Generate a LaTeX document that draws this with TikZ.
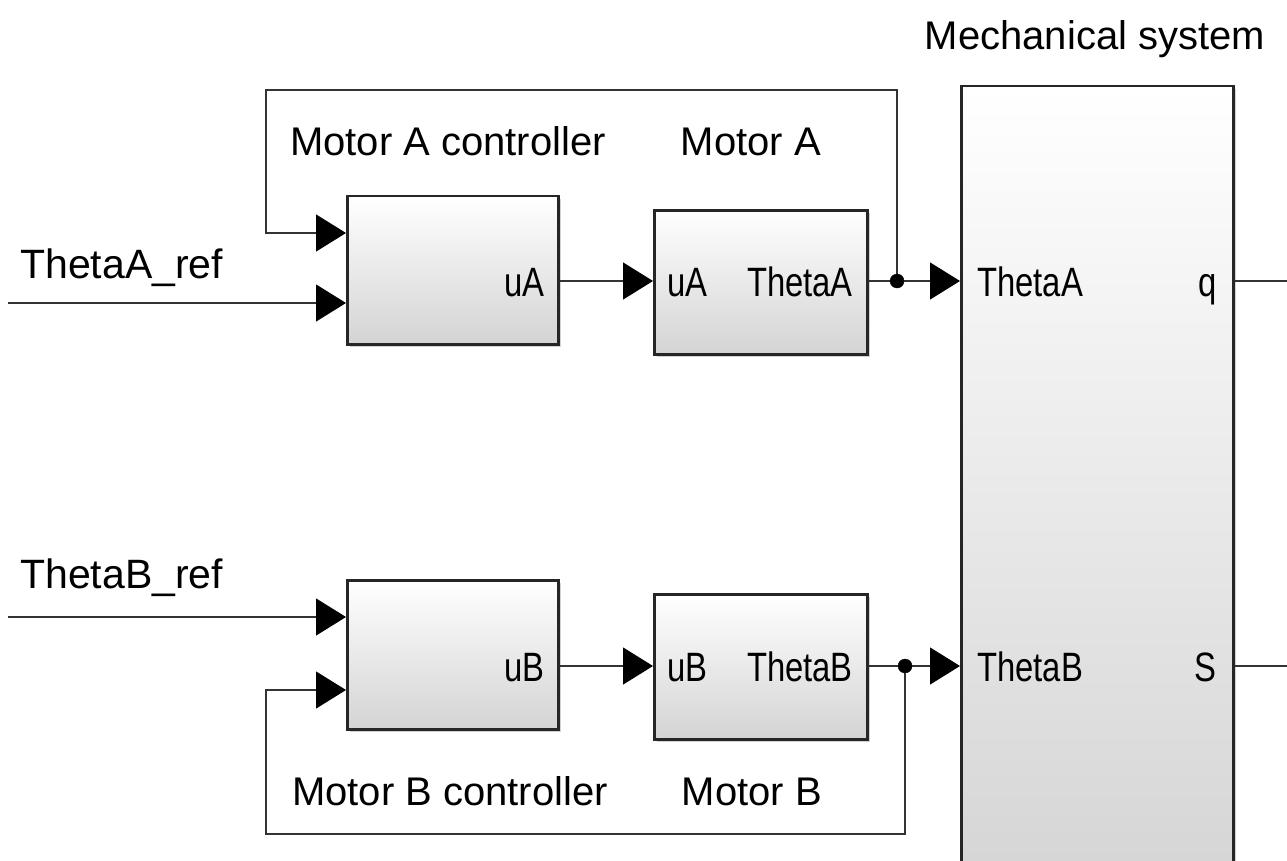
\documentclass[tikz,border=0pt]{standalone}
\usepackage{fontspec}
\setmainfont{Liberation Sans}
\newfontfamily\portfont{Liberation Sans}[FakeStretch=0.8]
\usetikzlibrary{arrows.meta,shadows}
\begin{document}
\begin{tikzpicture}[x=1pt,y=-1pt,
  blk/.style={draw=black!85, line width=2.5pt, top color=white, bottom color=black!17,
    drop shadow={shadow xshift=3pt,shadow yshift=-3pt,opacity=0.35},
    anchor=north west, inner sep=0pt},
  wire/.style={draw=black!80, line width=1.3pt},
  arr/.style={wire, -{Triangle[length=30pt,width=37pt,color=black,fill=black]}},
  ttl/.style={font=\fontsize{40}{45}\selectfont, inner sep=0pt, anchor=base},
  port/.style={font=\portfont\fontsize{41}{46}\selectfont, inner sep=0pt},
  dot/.style={circle, fill=black, draw=black, inner sep=0pt, minimum size=14pt}]
\useasboundingbox (0,0) rectangle (1287,861);
\clip (0,0) rectangle (1287,861);
\fill[white] (0,0) rectangle (1287,861);

% blocks
\node[blk, minimum width=211pt, minimum height=148pt] (ca) at (346,195) {};
\node[blk, minimum width=213pt, minimum height=144pt] (ma) at (653,209) {};
\node[blk, minimum width=211pt, minimum height=149pt] (cb) at (346,579) {};
\node[blk, minimum width=213pt, minimum height=145pt] (mb) at (653,593) {};
\node[blk, minimum width=272pt, minimum height=820pt] (ms) at (960,85) {};

% row coordinates
\coordinate (yA) at (0,281);
\coordinate (yA1) at (0,233);
\coordinate (yA2) at (0,303);
\coordinate (yB) at (0,666);
\coordinate (yB1) at (0,617);
\coordinate (yB2) at (0,690);

% titles
\node[ttl] (tca) at (448,156) {Motor A controller};
\node[ttl] (tma) at (751,156) {Motor A};
\node[ttl] (tcb) at (450,805) {Motor B controller};
\node[ttl] (tmb) at (752,805) {Motor B};
\node[ttl] (tms) at (1095,50) {Mechanical system};
\node[font=\fontsize{41}{46}\selectfont, inner sep=0pt, anchor=base west] (ra) at (20,278) {ThetaA\_ref};
\node[font=\fontsize{41}{46}\selectfont, inner sep=0pt, anchor=base west] (rb) at (20,588) {ThetaB\_ref};

% port labels
\node[port, anchor=base east] (pca) at (545,296) {uA};
\node[port, anchor=base west] (pma1) at (667,296) {uA};
\node[port, anchor=base east] (pma2) at (853,296) {ThetaA};
\node[port, anchor=base east] (pcb) at (545,681) {uB};
\node[port, anchor=base west] (pmb1) at (667,681) {uB};
\node[port, anchor=base east] (pmb2) at (853,681) {ThetaB};
\node[port, anchor=base west] (pms1) at (977,296) {ThetaA};
\node[port, anchor=base east] (pms2) at (1217,296) {q};
\node[port, anchor=base west] (pms3) at (977,681) {ThetaB};
\node[port, anchor=base east] (pms4) at (1217,681) {S};

% free ends
\coordinate (inA) at (8,303);
\coordinate (inB) at (8,617);
\coordinate (oq) at (1287,281);
\coordinate (oS) at (1287,666);
\coordinate (fbAtop) at (266,90);
\coordinate (fbBbot) at (266,834);

% junction points
\coordinate (jA) at (897,281);
\coordinate (jB) at (905,666);

% row A
\draw[arr] (inA) -- (inA -| ca.west);
\draw[arr] (ca.east |- yA) -- (ma.west |- yA);
\draw[wire] (ma.east |- yA) -- (jA);
\draw[arr] (jA) -- (ms.west |- yA);
\draw[arr] (jA) -- (jA |- fbAtop) -- (fbAtop) -- (fbAtop |- yA1) -- (ca.west |- yA1);
\draw[wire] (ms.east |- yA) -- (oq);

% row B
\draw[arr] (inB) -- (inB -| cb.west);
\draw[arr] (cb.east |- yB) -- (mb.west |- yB);
\draw[wire] (mb.east |- yB) -- (jB);
\draw[arr] (jB) -- (ms.west |- yB);
\draw[arr] (jB) -- (jB |- fbBbot) -- (fbBbot) -- (fbBbot |- yB2) -- (cb.west |- yB2);
\draw[wire] (ms.east |- yB) -- (oS);

% junction dots on top
\node[dot] (dA) at (jA) {};
\node[dot] (dB) at (jB) {};
\end{tikzpicture}
\end{document}
